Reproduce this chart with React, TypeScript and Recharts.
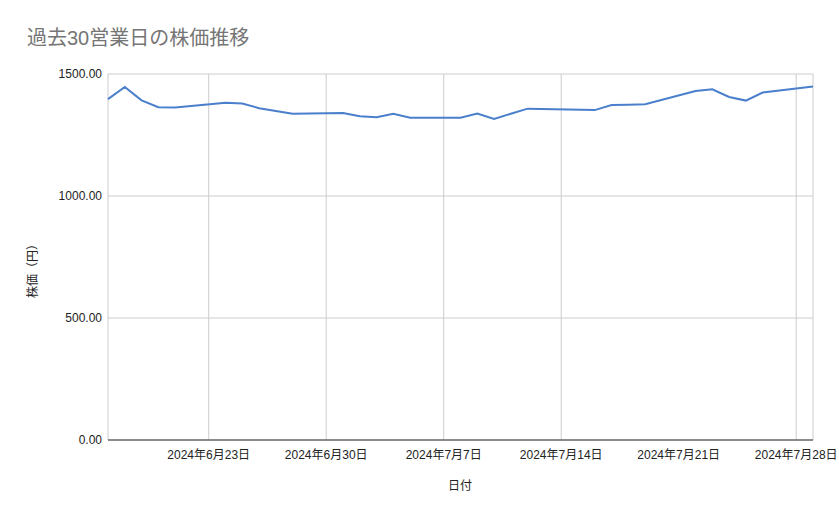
import React from "react";
import {
  LineChart,
  Line,
  XAxis,
  YAxis,
  CartesianGrid,
  Label,
} from "recharts";

// 過去30営業日（2024/6/17〜7/29、7/15は祝日）
const dates = [
  "2024-06-17", "2024-06-18", "2024-06-19", "2024-06-20", "2024-06-21",
  "2024-06-24", "2024-06-25", "2024-06-26", "2024-06-27", "2024-06-28",
  "2024-07-01", "2024-07-02", "2024-07-03", "2024-07-04", "2024-07-05",
  "2024-07-08", "2024-07-09", "2024-07-10", "2024-07-11", "2024-07-12",
  "2024-07-16", "2024-07-17", "2024-07-18", "2024-07-19",
  "2024-07-22", "2024-07-23", "2024-07-24", "2024-07-25", "2024-07-26",
  "2024-07-29",
];

const prices = [
  1397, 1447, 1392, 1364, 1363,
  1382, 1379, 1360, 1348, 1337,
  1340, 1327, 1323, 1337, 1321,
  1321, 1338, 1316, 1337, 1358,
  1352, 1373, 1374, 1376,
  1430, 1437, 1406, 1391, 1424,
  1449,
];

const xTickDates = [
  "2024-06-23", "2024-06-30", "2024-07-07",
  "2024-07-14", "2024-07-21", "2024-07-28",
];

const yTicks = [0, 500, 1000, 1500];

const FONT = "Arial, 'Liberation Sans', 'Noto Sans CJK JP', sans-serif";
const DAY = 86400000;
const start = Date.parse(dates[0]);

const dayNo = (s: string) => (Date.parse(s) - start) / DAY;

function formatDay(v: number): string {
  const d = new Date(start + v * DAY);
  return `${d.getUTCFullYear()}年${d.getUTCMonth() + 1}月${d.getUTCDate()}日`;
}

const data = dates.map((d, i) => ({ day: dayNo(d), price: prices[i] }));

export default function App() {
  return (
    <div
      style={{
        position: "absolute",
        left: 0,
        top: 0,
        width: 839,
        height: 519,
        background: "#fff",
        fontFamily: FONT,
      }}
    >
      <div
        style={{
          position: "absolute",
          left: 27,
          top: 28,
          fontSize: 20,
          lineHeight: "20px",
          color: "#757575",
          whiteSpace: "nowrap",
        }}
      >
        過去30営業日の株価推移
      </div>
      <LineChart
        width={839}
        height={519}
        data={data}
        margin={{ top: 74, right: 26, bottom: 0, left: 0 }}
        style={{ fontFamily: FONT }}
      >
        <CartesianGrid stroke="#cccccc" />
        <XAxis
          dataKey="day"
          type="number"
          domain={["dataMin", "dataMax"]}
          ticks={xTickDates.map(dayNo)}
          tickFormatter={formatDay}
          height={79}
          tickLine={false}
          tickSize={0}
          tickMargin={10}
          axisLine={{ stroke: "#333333" }}
          tick={{ fontSize: 12, fill: "#222222" }}
        >
          <Label
            content={() => (
              <text
                x={460}
                y={490}
                textAnchor="middle"
                fontSize={12}
                fill="#222222"
              >
                日付
              </text>
            )}
          />
        </XAxis>
        <YAxis
          domain={[0, 1500]}
          ticks={yTicks}
          tickFormatter={(v: number) => v.toFixed(2)}
          width={108}
          axisLine={false}
          tickLine={false}
          tickSize={0}
          tickMargin={6}
          tick={{ fontSize: 12, fill: "#222222" }}
        >
          <Label
            content={() => (
              <text
                x={33}
                y={268}
                transform="rotate(-90 33 268)"
                textAnchor="middle"
                dominantBaseline="central"
                fontSize={12}
                fill="#222222"
              >
                株価（円）
              </text>
            )}
          />
        </YAxis>
        <Line
          type="linear"
          dataKey="price"
          stroke="#4a7fcc"
          strokeWidth={2}
          dot={false}
          isAnimationActive={false}
        />
      </LineChart>
    </div>
  );
}
